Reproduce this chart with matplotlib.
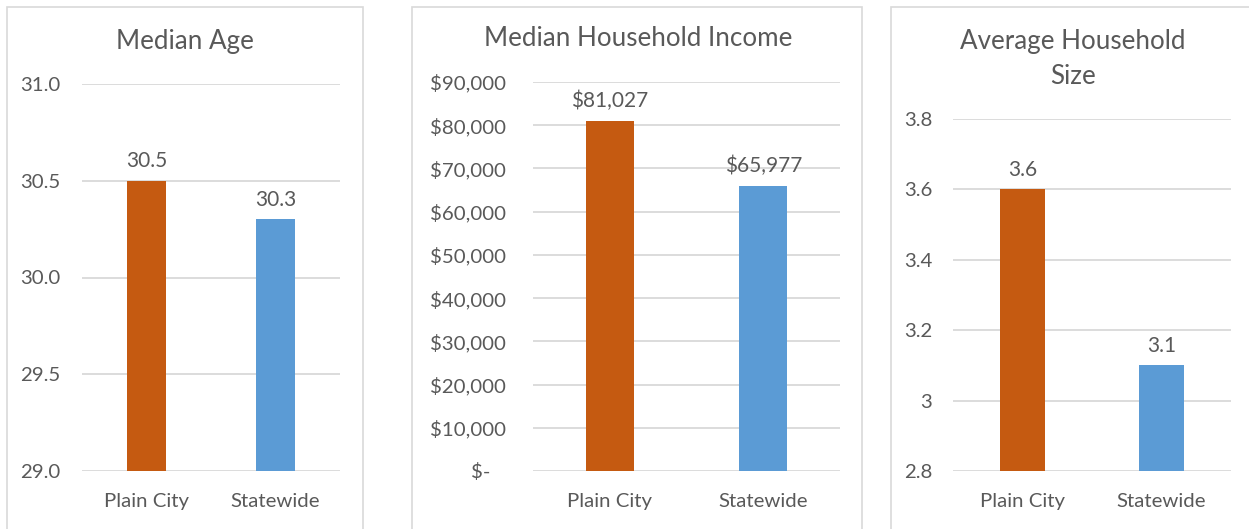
import matplotlib.pyplot as plt
from matplotlib.patches import Rectangle
from matplotlib.ticker import FuncFormatter

plt.rcParams['font.family'] = ['Lato', 'DejaVu Sans']

# data
categories = ['Plain City', 'Statewide']
ages = [30.5, 30.3]
incomes = [81027, 65977]
hh_sizes = [3.6, 3.1]

age_ticks = [29.0, 29.5, 30.0, 30.5, 31.0]
income_ticks = list(range(0, 90001, 10000))
size_ticks = [2.8, 3.0, 3.2, 3.4, 3.6, 3.8]
size_tick_labels = ['2.8', '3', '3.2', '3.4', '3.6', '3.8']

colors = ['#C55A11', '#5B9BD5']
TEXT = '#595959'
GRID = '#D9D9D9'

W, H = 1249, 529
fig = plt.figure(figsize=(W / 100, H / 100), dpi=100)


def px_axes(x0, x1, ytop, ybot):
    return fig.add_axes([x0 / W, 1 - ybot / H, (x1 - x0) / W, (ybot - ytop) / H])


def panel_border(x0, x1, ytop):
    fig.patches.append(Rectangle((x0 / W, -0.2), (x1 - x0) / W, 1.2 - ytop / H,
                                 transform=fig.transFigure, fill=False,
                                 edgecolor=GRID, lw=1.2))


def style(ax, ylim, ticks, ypad):
    ax.set_xlim(-0.5, 1.5)
    ax.set_ylim(*ylim)
    ax.set_yticks(ticks)
    for s in ax.spines.values():
        s.set_visible(False)
    ax.yaxis.grid(True, color=GRID, lw=1.3)
    ax.set_axisbelow(True)
    ax.tick_params(length=0, colors=TEXT)
    ax.tick_params(axis='y', pad=ypad, labelsize=14.7)
    ax.tick_params(axis='x', pad=16, labelsize=14.7)
    ax.set_xticks([0, 1])
    ax.set_xticklabels(categories)


def bars(ax, vals, labels, width):
    b = ax.bar([0, 1], vals, width=width, color=colors, zorder=3)
    for rect, lab in zip(b, labels):
        ax.annotate(lab, (rect.get_x() + rect.get_width() / 2, rect.get_height()),
                    xytext=(0, 7), textcoords='offset points', ha='center',
                    va='bottom', fontsize=15, color=TEXT)


# panel 1: median age
panel_border(7, 363, 7)
ax1 = px_axes(82, 340, 84, 471)
bars(ax1, ages, [f'{v:.1f}' for v in ages], 0.31)
style(ax1, (29.0, 31.0), age_ticks, 15.5)
ax1.yaxis.set_major_formatter(FuncFormatter(lambda v, p: f'{v:.1f}'))
fig.text(185 / W, 1 - 42 / H, 'Median Age', ha='center', va='center',
         fontsize=18.7, color=TEXT)

# panel 2: median household income
panel_border(412, 862, 7)
ax2 = px_axes(533, 840, 82, 471)
bars(ax2, incomes, [f'${v:,.0f}' for v in incomes], 0.31)
style(ax2, (0, 90000), income_ticks, 19.5)
ax2.yaxis.set_major_formatter(
    FuncFormatter(lambda v, p: f'${v:,.0f}' if v else '$-   '))
fig.text(638 / W, 1 - 39 / H, 'Median Household Income', ha='center',
         va='center', fontsize=18.7, color=TEXT)

# panel 3: average household size
panel_border(891, 1260, 7)
ax3 = px_axes(953, 1231, 119, 471)
bars(ax3, hh_sizes, [f'{v:.1f}' for v in hh_sizes], 0.32)
style(ax3, (2.8, 3.8), size_ticks, 15)
ax3.set_yticklabels(size_tick_labels)
fig.text(1073 / W, 1 - 59 / H, 'Average Household\nSize', ha='center',
         va='center', fontsize=18.7, color=TEXT, linespacing=1.5)

fig.savefig('out.png', dpi=100)
